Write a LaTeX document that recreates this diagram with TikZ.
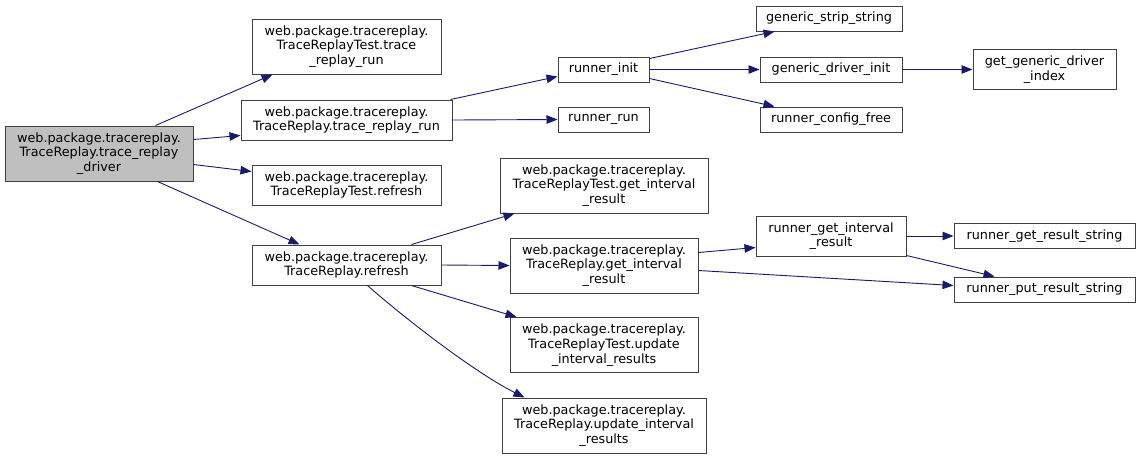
\documentclass[tikz,border=0pt]{standalone}
\usepackage{fontspec}
\setmainfont{DejaVu Sans}
\usetikzlibrary{arrows.meta,calc}
\definecolor{edgeblue}{HTML}{191970}
\definecolor{boxline}{HTML}{404040}
\definecolor{rootfill}{HTML}{BFBFBF}
\begin{document}
\begin{tikzpicture}[x=1pt,y=-1pt,
  fn/.style={draw=boxline,line width=1pt,fill=white,inner sep=0pt,align=center,
    font=\fontsize{12.8}{14.7}\selectfont},
  rootfn/.style={fn,fill=rootfill},
  call/.style={draw=edgeblue,line width=0.9pt,-{Triangle[length=11pt,width=8.5pt]},fill=none},
]
\useasboundingbox (0,0) rectangle (1140,459);
% nodes
\node[rootfn,minimum width=188,minimum height=55] (drv) at (99,153.5) {web.package.tracereplay.\\TraceReplay.trace\_replay\\\_driver};
\node[fn,minimum width=189,minimum height=55] (trtrun) at (346.5,46.5) {web.package.tracereplay.\\TraceReplayTest.trace\\\_replay\_run};
\node[fn,minimum width=211,minimum height=40] (trrun) at (346.5,120) {web.package.tracereplay.\\TraceReplay.trace\_replay\_run};
\node[fn,minimum width=189,minimum height=40] (trtref) at (346.5,185) {web.package.tracereplay.\\TraceReplayTest.refresh};
\node[fn,minimum width=189,minimum height=40] (trref) at (346.5,265) {web.package.tracereplay.\\TraceReplay.refresh};
\node[fn,minimum width=91,minimum height=25] (rinit) at (603.5,69.5) {runner\_init};
\node[fn,minimum width=91,minimum height=25] (rrun) at (603.5,119.5) {runner\_run};
\node[fn,minimum width=146,minimum height=25] (gss) at (829,18.5) {generic\_strip\_string};
\node[fn,minimum width=142,minimum height=25] (gdi) at (831,69.5) {generic\_driver\_init};
\node[fn,minimum width=142,minimum height=25] (rcf) at (831,119.5) {runner\_config\_free};
\node[fn,minimum width=143,minimum height=40] (ggdi) at (1044.5,69.5) {get\_generic\_driver\\\_index};
\node[fn,minimum width=208,minimum height=55] (trtgir) at (604,185.5) {web.package.tracereplay.\\TraceReplayTest.get\_interval\\\_result};
\node[fn,minimum width=188,minimum height=55] (trgir) at (604,265.5) {web.package.tracereplay.\\TraceReplay.get\_interval\\\_result};
\node[fn,minimum width=188,minimum height=55] (trtuir) at (604,345) {web.package.tracereplay.\\TraceReplayTest.update\\\_interval\_results};
\node[fn,minimum width=204,minimum height=55] (truir) at (604,425.5) {web.package.tracereplay.\\TraceReplay.update\_interval\\\_results};
\node[fn,minimum width=150,minimum height=40] (rgir) at (831,236) {runner\_get\_interval\\\_result};
\node[fn,minimum width=181,minimum height=25] (rgrs) at (1044.5,236) {runner\_get\_result\_string};
\node[fn,minimum width=181,minimum height=25] (rprs) at (1044.5,289.5) {runner\_put\_result\_string};
% edges
\draw[call] ($(drv.north west)+(151,0)$) -- ($(trtrun.south west)+(21,0)$);
\draw[call] ($(drv.north east)+(0,14)$) -- ($(trrun.south west)+(0,-5)$);
\draw[call] ($(drv.north east)+(0,39)$) -- ($(trtref.north west)+(0,7)$);
\draw[call] ($(drv.south west)+(153,0)$) -- ($(trref.north west)+(48,0)$);
\draw[call] ($(trrun.north east)+(-2,0)$) -- ($(rinit.north west)+(0,20)$);
\draw[call] (trrun.east) -- (rrun.west);
\draw[call] ($(rinit.north east)+(0,2)$) -- ($(gss.south west)+(19,0)$);
\draw[call] (rinit.east) -- (gdi.west);
\draw[call] ($(rinit.north east)+(0,22)$) -- ($(rcf.north west)+(15,0)$);
\draw[call] (gdi.east) -- (ggdi.west);
\draw[call] ($(trref.north west)+(160,0)$) -- ($(trtgir.south west)+(15,0)$);
\draw[call] (trref.east) -- (trgir.west);
\draw[call] ($(trref.south west)+(160,0)$) -- ($(trtuir.north west)+(7,0)$);
\draw[call] ($(trref.south west)+(116,0)$) .. controls (395,310) and (470,370) .. ($(truir.north west)+(23,0)$);
\draw[call] ($(trgir.north east)+(0,15)$) -- ($(rgir.south west)+(0,-9)$);
\draw[call] ($(trgir.north east)+(0,33)$) -- ($(rprs.north west)+(0,9)$);
\draw[call] (rgir.east) -- (rgrs.west);
\draw[call] ($(rgir.south east)+(0,-1)$) -- ($(rprs.north west)+(41,0)$);
\end{tikzpicture}
\end{document}
